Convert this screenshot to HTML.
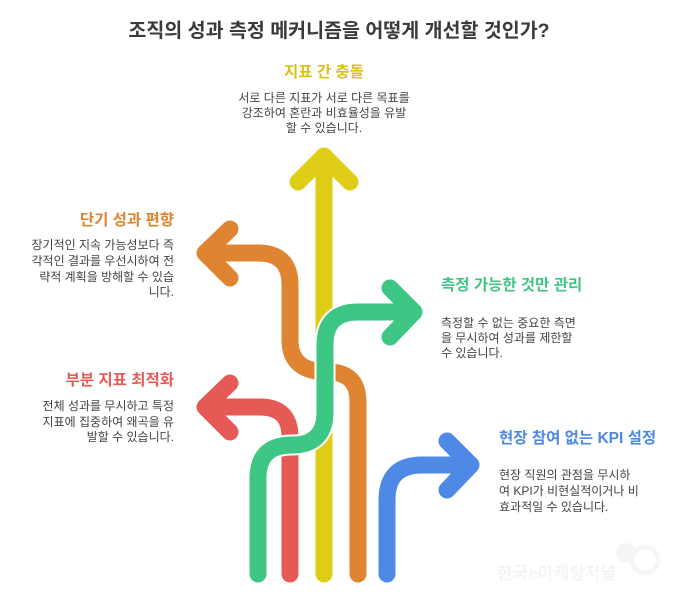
<!DOCTYPE html>
<html><head><meta charset="utf-8"><style>
html,body{margin:0;padding:0;background:#fff;}
svg{display:block;font-family:"Liberation Sans","Noto Sans CJK KR",sans-serif;}
.d{font-size:12px;fill:#444;}
.t{font-size:15.5px;font-weight:bold;}
</style></head><body>
<svg width="678" height="596" viewBox="0 0 678 596">
<text x="339" y="37" text-anchor="middle" font-size="19.5" font-weight="bold" fill="#3a3a3a">조직의 성과 측정 메커니즘을 어떻게 개선할 것인가?</text>

<text x="324" y="77" text-anchor="middle" class="t" fill="#d8c21a">지표 간 충돌</text>
<text text-anchor="middle" class="d"><tspan x="324" y="102">서로 다른 지표가 서로 다른 목표를</tspan><tspan x="324" y="117">강조하여 혼란과 비효율성을 유발</tspan><tspan x="324" y="132">할 수 있습니다.</tspan></text>

<text x="174" y="225" text-anchor="end" class="t" fill="#e0832f">단기 성과 편향</text>
<text text-anchor="end" class="d"><tspan x="174" y="249">장기적인 지속 가능성보다 즉</tspan><tspan x="174" y="265">각적인 결과를 우선시하여 전</tspan><tspan x="174" y="281">략적 계획을 방해할 수 있습</tspan><tspan x="174" y="296">니다.</tspan></text>

<text x="441" y="290" class="t" fill="#3ec684">측정 가능한 것만 관리</text>
<text class="d"><tspan x="441" y="327">측정할 수 없는 중요한 측면</tspan><tspan x="441" y="342">을 무시하여 성과를 제한할</tspan><tspan x="441" y="357">수 있습니다.</tspan></text>

<text x="174" y="385" text-anchor="end" class="t" fill="#e55a55">부분 지표 최적화</text>
<text text-anchor="end" class="d"><tspan x="174" y="410">전체 성과를 무시하고 특정</tspan><tspan x="174" y="426">지표에 집중하여 왜곡을 유</tspan><tspan x="174" y="441">발할 수 있습니다.</tspan></text>

<text x="499" y="443" class="t" fill="#4e88e6">현장 참여 없는 KPI 설정</text>
<text class="d"><tspan x="499" y="479">현장 직원의 관점을 무시하</tspan><tspan x="499" y="495">여 KPI가 비현실적이거나 비</tspan><tspan x="499" y="511">효과적일 수 있습니다.</tspan></text>

<g fill="none" stroke-linecap="round" stroke-linejoin="round" stroke-width="17">
  <path d="M324,574 V158" stroke="#dfcc17"/>
  <path d="M298,182 L324,156 L350,182" stroke="#dfcc17"/>
  <path d="M358,574 V402 Q358,372 328,372 Q290,372 290,340 V285 Q290,253 258,253 H208" stroke="#df8430"/>
  <path d="M230,229 L205,253 L230,278" stroke="#df8430"/>
  <path d="M290,574 V437 Q290,407 260,407 H208" stroke="#e55a55"/>
  <path d="M230,383 L205,407 L230,432" stroke="#e55a55"/>
  <path d="M387,574 V500 Q387,465 422,465 H468" stroke="#4f89e6"/>
  <path d="M447,441 L471,465 L447,490" stroke="#4f89e6"/>
  <path d="M258,574 V478 Q258,445 292,445 Q325,445 325,412 V345 Q325,312 358,312 H410" stroke="#fff" stroke-width="21" stroke-linecap="butt"/>
  <path d="M258,574 V478 Q258,445 292,445 Q325,445 325,412 V345 Q325,312 358,312 H410" stroke="#3ec684"/>
  <path d="M390,288 L414,312 L390,337" stroke="#3ec684"/>
</g>
<text x="497" y="579" font-size="17" font-weight="bold" fill="#f4f4f4">한국e마케팅저널</text>
<circle cx="626" cy="553" r="10" fill="#f5f5f5"/>
<circle cx="645" cy="560" r="13" fill="none" stroke="#f5f5f5" stroke-width="5"/>
</svg>
</body></html>
